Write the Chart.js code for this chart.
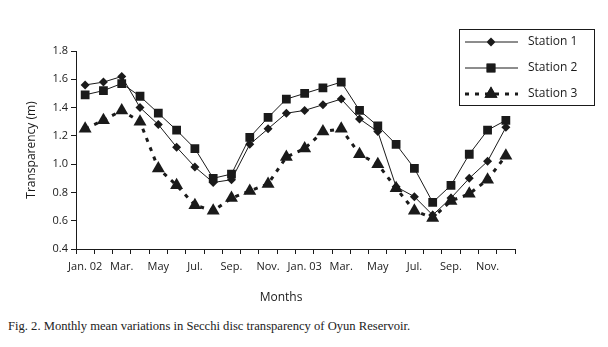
<!DOCTYPE html>
<html>
<head>
<meta charset="utf-8">
<script src="https://cdn.jsdelivr.net/npm/chart.js@4"></script>
<style>
  body { margin: 0; background: #fff; }
  #wrap { position: relative; width: 608px; height: 347px; }
  #caption {
    position: absolute; left: 8px; top: 319px;
    font-family: "Liberation Serif", serif; font-size: 12.6px; color: #222;
  }
</style>
</head>
<body>
<div id="wrap">
  <canvas id="chart" width="608" height="310"></canvas>
  <div id="caption">Fig. 2. Monthly mean variations in Secchi disc transparency of Oyun Reservoir.</div>
</div>
<script>
const months = ['Jan 02', 'Feb 02', 'Mar 02', 'Apr 02', 'May 02', 'Jun 02', 'Jul 02', 'Aug 02',
  'Sep 02', 'Oct 02', 'Nov 02', 'Dec 02', 'Jan 03', 'Feb 03', 'Mar 03', 'Apr 03',
  'May 03', 'Jun 03', 'Jul 03', 'Aug 03', 'Sep 03', 'Oct 03', 'Nov 03', 'Dec 03'];
const tickLabels = ['Jan. 02', 'Mar.', 'May', 'Jul.', 'Sep.', 'Nov.', 'Jan. 03', 'Mar.', 'May', 'Jul.', 'Sep.', 'Nov.'];

const station1 = [1.56, 1.58, 1.62, 1.40, 1.28, 1.12, 0.98, 0.87, 0.89, 1.14, 1.25, 1.36,
  1.38, 1.42, 1.46, 1.32, 1.23, 0.84, 0.77, 0.64, 0.76, 0.90, 1.02, 1.26];
const station2 = [1.49, 1.52, 1.57, 1.48, 1.36, 1.24, 1.11, 0.90, 0.93, 1.19, 1.33, 1.46,
  1.50, 1.54, 1.58, 1.38, 1.27, 1.14, 0.97, 0.73, 0.85, 1.07, 1.24, 1.31];
const station3 = [1.25, 1.31, 1.38, 1.30, 0.97, 0.85, 0.71, 0.67, 0.76, 0.81, 0.86, 1.05,
  1.11, 1.23, 1.25, 1.07, 1.00, 0.83, 0.67, 0.62, 0.74, 0.79, 0.89, 1.06];

const ink = '#1a1a1a';
const font = 'Open Sans, "DejaVu Sans", sans-serif';

// boxed legend in the top right corner, line + marker + label
const boxLegend = {
  id: 'boxLegend',
  afterDraw(chart) {
    const ctx = chart.ctx;
    const x0 = 459, y0 = 29, w = 135, h = 76;
    ctx.save();
    ctx.fillStyle = '#fff';
    ctx.fillRect(x0, y0, w, h);
    ctx.strokeStyle = ink;
    ctx.lineWidth = 1;
    ctx.strokeRect(x0 + 0.5, y0 + 0.5, w, h);
    chart.data.datasets.forEach((ds, i) => {
      const y = 42 + i * 26;
      ctx.strokeStyle = ink;
      ctx.lineWidth = ds.borderWidth;
      ctx.setLineDash(ds.borderDash || []);
      ctx.beginPath();
      ctx.moveTo(465, y);
      ctx.lineTo(518, y);
      ctx.stroke();
      ctx.setLineDash([]);
      Chart.helpers.drawPoint(ctx, {
        pointStyle: ds.pointStyle, radius: ds.pointRadius, borderWidth: 0
      }, 491, y);
      ctx.fillStyle = ink;
      ctx.fill();
      ctx.font = '12px ' + font;
      ctx.textBaseline = 'middle';
      ctx.fillText(ds.label, 528, y);
    });
    ctx.restore();
  }
};

// x axis title sits a little left of centre in the original
const monthsTitle = {
  id: 'monthsTitle',
  afterDraw(chart) {
    const ctx = chart.ctx, a = chart.chartArea;
    ctx.save();
    ctx.fillStyle = ink;
    ctx.font = '12px ' + font;
    ctx.textAlign = 'center';
    ctx.textBaseline = 'middle';
    ctx.fillText('Months', a.left + (a.right - a.left) * 0.467, a.bottom + 48.5);
    ctx.restore();
  }
};

new Chart(document.getElementById('chart'), {
  type: 'line',
  data: {
    labels: months,
    datasets: [
      {
        label: 'Station 1', data: station1,
        borderColor: ink, borderWidth: 1,
        pointStyle: 'rectRot', pointRadius: 4.5,
        pointBackgroundColor: ink, pointBorderWidth: 0
      },
      {
        label: 'Station 2', data: station2,
        borderColor: ink, borderWidth: 1,
        pointStyle: 'rect', pointRadius: 6.2,
        pointBackgroundColor: ink, pointBorderWidth: 0
      },
      {
        label: 'Station 3', data: station3,
        borderColor: ink, borderWidth: 3, borderDash: [4, 6],
        pointStyle: 'triangle', pointRadius: 7.5,
        pointBackgroundColor: ink, pointBorderWidth: 0
      }
    ]
  },
  options: {
    responsive: false,
    animation: false,
    layout: { padding: { top: 51, right: 93, left: 0, bottom: 0 } },
    plugins: {
      legend: { display: false },
      tooltip: { enabled: false }
    },
    scales: {
      x: {
        offset: true,
        afterFit: (s) => { s.height = 61; },
        border: { color: ink, width: 1 },
        grid: { display: true, offset: true, drawOnChartArea: false, drawTicks: true, tickLength: 5, color: ink },
        ticks: {
          autoSkip: false, maxRotation: 0, padding: 6, color: ink,
          font: { family: font, size: 11 },
          callback: (v, i) => (i % 2 === 0 ? tickLabels[i / 2] : '')
        }
      },
      y: {
        min: 0.4, max: 1.8,
        afterFit: (s) => { s.width = 76; },
        border: { color: ink, width: 1 },
        grid: { display: true, drawOnChartArea: false, drawTicks: true, tickLength: 5, color: ink },
        ticks: {
          stepSize: 0.2, padding: 3, color: ink,
          font: { family: font, size: 11 },
          callback: (v) => v.toFixed(1)
        },
        title: {
          display: true, text: 'Transparency (m)', color: ink,
          font: { family: font, size: 12 },
          padding: { top: 24, bottom: 0 }
        }
      }
    }
  },
  plugins: [boxLegend, monthsTitle]
});
</script>
</body>
</html>
